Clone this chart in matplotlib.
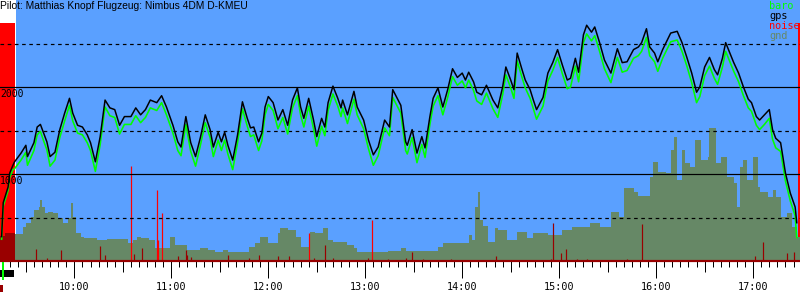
import matplotlib
matplotlib.use("Agg")
import matplotlib.pyplot as plt
from matplotlib.patches import Rectangle
import numpy as np

titel = "Pilot: Matthias Knopf Flugzeug: Nimbus 4DM D-KMEU"

# Zeitachse und Flugphasen (hh:mm)
zeit_von = "09:14"
zeit_bis = "17:29"
abflug = "09:23"
blau_ab = "09:24"
landung = "17:28"

# GPS-Höhe und barometrische Höhe (m)
flug_zeit = [
    "09:15", "09:16", "09:19", "09:20", "09:22",
    "09:23", "09:27", "09:30", "09:31", "09:35", "09:37", "09:39", "09:41", "09:43", "09:45",
    "09:48", "09:51", "09:54", "09:57", "09:59", "10:02", "10:05", "10:08", "10:10", "10:13",
    "10:16", "10:19", "10:22", "10:25", "10:28", "10:31", "10:35", "10:38", "10:41", "10:44",
    "10:47", "10:51", "10:54", "10:57", "11:01", "11:04", "11:06", "11:09", "11:12", "11:15",
    "11:18", "11:21", "11:24", "11:26", "11:29", "11:31", "11:33", "11:35", "11:38", "11:41",
    "11:44", "11:47", "11:49", "11:51", "11:54", "11:56", "11:58", "12:00", "12:03", "12:06",
    "12:09", "12:12", "12:15", "12:18", "12:20", "12:22", "12:25", "12:28", "12:30", "12:33",
    "12:35", "12:37", "12:40", "12:43", "12:45", "12:46", "12:49", "12:53", "12:55", "12:59",
    "13:02", "13:05", "13:08", "13:12", "13:15", "13:17", "13:22", "13:25", "13:26", "13:29",
    "13:32", "13:35", "13:37", "13:40", "13:42", "13:45", "13:48", "13:51", "13:54", "13:57",
    "14:00", "14:02", "14:04", "14:07", "14:09", "14:12", "14:15", "14:19", "14:22", "14:25",
    "14:27", "14:30", "14:32", "14:34", "14:37", "14:39", "14:42", "14:44", "14:46", "14:50",
    "14:53", "14:56", "14:59", "15:02", "15:05", "15:07", "15:10", "15:12", "15:15", "15:17",
    "15:20", "15:22", "15:25", "15:28", "15:32", "15:36", "15:39", "15:42", "15:46", "15:49",
    "15:51", "15:54", "15:56", "15:59", "16:01", "16:04", "16:09", "16:13", "16:16", "16:19",
    "16:22", "16:25", "16:27", "16:30", "16:33", "16:36", "16:38", "16:41", "16:43", "16:46",
    "16:48", "16:51", "16:54", "16:57", "16:59", "17:02", "17:04", "17:07", "17:10", "17:12",
    "17:14", "17:17", "17:20", "17:23", "17:26", "17:27",
]
gps_hoehe = [
    280, 670, 850, 1010, 1100,
    1140, 1240, 1330, 1200, 1360, 1540, 1570, 1470, 1370, 1200,
    1250, 1510, 1700, 1870, 1700, 1560, 1540, 1450, 1360, 1140,
    1430, 1850, 1760, 1740, 1560, 1660, 1660, 1760, 1680, 1740,
    1850, 1820, 1900, 1770, 1560, 1370, 1310, 1660, 1360, 1200,
    1420, 1680, 1510, 1310, 1480, 1370, 1480, 1330, 1160, 1450,
    1830, 1640, 1530, 1540, 1370, 1470, 1770, 1890, 1820, 1620,
    1740, 1560, 1850, 1990, 1770, 1640, 1870, 1620, 1430, 1640,
    1540, 1820, 2010, 1870, 1760, 1850, 1680, 1950, 1770, 1620,
    1390, 1220, 1310, 1620, 1540, 1970, 1790, 1370, 1330, 1510,
    1240, 1430, 1300, 1660, 1870, 1990, 1770, 1970, 2210, 2110,
    2160, 2080, 2170, 2060, 1940, 1910, 2020, 1850, 1760, 2000,
    2230, 2080, 1970, 2390, 2200, 2080, 1970, 1850, 1740, 1880,
    2160, 2280, 2430, 2250, 2080, 2100, 2330, 2170, 2600, 2710,
    2630, 2690, 2510, 2310, 2160, 2440, 2280, 2290, 2430, 2460,
    2510, 2670, 2460, 2390, 2290, 2430, 2620, 2640, 2510, 2340,
    2160, 1940, 2000, 2230, 2340, 2200, 2140, 2330, 2510, 2370,
    2280, 2160, 2000, 1860, 1820, 1660, 1620, 1680, 1740, 1510,
    1410, 1360, 1010, 780, 620, 440,
]
baro_hoehe = [
    250, 630, 810, 960, 1050,
    1060, 1160, 1250, 1100, 1270, 1450, 1490, 1380, 1280, 1090,
    1160, 1420, 1610, 1790, 1610, 1470, 1450, 1360, 1270, 1030,
    1340, 1770, 1670, 1650, 1460, 1570, 1570, 1670, 1590, 1650,
    1760, 1730, 1820, 1680, 1470, 1270, 1210, 1570, 1260, 1090,
    1330, 1590, 1420, 1200, 1390, 1270, 1390, 1230, 1050, 1360,
    1750, 1550, 1430, 1450, 1270, 1380, 1680, 1800, 1730, 1520,
    1650, 1460, 1760, 1900, 1680, 1540, 1780, 1520, 1320, 1550,
    1440, 1730, 1920, 1780, 1660, 1760, 1580, 1860, 1680, 1520,
    1290, 1100, 1210, 1530, 1440, 1880, 1700, 1270, 1230, 1420,
    1130, 1340, 1190, 1570, 1780, 1900, 1680, 1880, 2120, 2020,
    2070, 1990, 2080, 1960, 1840, 1800, 1930, 1750, 1650, 1910,
    2140, 1990, 1870, 2300, 2110, 1990, 1870, 1750, 1630, 1780,
    2070, 2190, 2340, 2150, 1980, 2000, 2240, 2060, 2510, 2610,
    2530, 2590, 2410, 2210, 2050, 2340, 2170, 2190, 2330, 2360,
    2410, 2570, 2360, 2290, 2180, 2330, 2520, 2540, 2410, 2240,
    2050, 1820, 1890, 2130, 2240, 2100, 2030, 2230, 2410, 2270,
    2180, 2060, 1900, 1760, 1720, 1560, 1510, 1570, 1640, 1400,
    1300, 1260, 920, 690, 520, 270,
]

# Gelände unter der Flugbahn (m)
gnd_zeit = [
    "09:14", "09:17", "09:23", "09:28", "09:30", "09:33", "09:35", "09:38", "09:39", "09:40",
    "09:42", "09:44", "09:47", "09:50", "09:53", "09:56", "09:58", "09:59", "10:01", "10:04",
    "10:06", "10:14", "10:20", "10:33", "10:36", "10:39", "10:41", "10:46", "10:50", "10:59",
    "11:02", "11:10", "11:18", "11:23", "11:27", "11:32", "11:35", "11:48", "11:52", "11:55",
    "12:00", "12:06", "12:07", "12:12", "12:17", "12:20", "12:26", "12:29", "12:34", "12:37",
    "12:40", "12:49", "12:53", "12:55", "13:14", "13:22", "13:25", "13:45", "13:48", "14:04",
    "14:06", "14:08", "14:10", "14:11", "14:13", "14:16", "14:20", "14:22", "14:28", "14:34",
    "14:40", "14:44", "14:53", "15:02", "15:08", "15:19", "15:25", "15:32", "15:37", "15:40",
    "15:46", "15:49", "15:56", "15:58", "16:01", "16:06", "16:09", "16:11", "16:13", "16:16",
    "16:18", "16:21", "16:24", "16:28", "16:32", "16:33", "16:37", "16:40", "16:44", "16:48",
    "16:50", "16:52", "16:54", "16:56", "17:00", "17:03", "17:04", "17:09", "17:12", "17:14",
    "17:17", "17:21", "17:24", "17:27", "17:29",
]
gnd_hoehe = [
    290, 320, 310, 390, 440, 510, 590, 620, 700, 620,
    550, 560, 550, 490, 440, 490, 670, 510, 320, 280,
    260, 240, 250, 210, 240, 280, 260, 240, 150, 280,
    180, 130, 150, 130, 100, 130, 100, 160, 210, 280,
    210, 320, 380, 360, 280, 160, 330, 320, 380, 240,
    220, 180, 150, 100, 115, 150, 115, 160, 210, 300,
    240, 620, 790, 470, 400, 220, 380, 360, 240, 330,
    260, 320, 300, 360, 390, 440, 390, 560, 510, 840,
    790, 750, 970, 1140, 1020, 1010, 1280, 1430, 930, 1280,
    1130, 1080, 1390, 1160, 1200, 1530, 1130, 1200, 970, 900,
    620, 1080, 1160, 930, 1200, 850, 790, 740, 820, 740,
    510, 550, 390, 280, 280,
]

# Störgeräusch (noise), laut = hellrot, leise = dunkelrot
laut_zeit = ["10:35", "10:51", "10:52", "10:54", "12:25", "13:04"]
laut_wert = [1090, 820, 240, 550, 320, 470]
leise_zeit = [
    "09:36", "09:43", "09:52", "10:16", "10:19", "10:37", "10:42", "11:04", "11:09", "11:10",
    "11:12", "11:35", "11:48", "11:54", "12:06", "12:13", "12:28", "12:35", "12:40", "13:02",
    "13:14", "13:25", "13:29", "13:36", "13:53", "14:21", "14:55", "14:56", "15:01", "15:04",
    "15:11", "15:17", "15:42", "15:51", "17:01", "17:06", "17:21", "17:25",
]
leise_wert = [
    140, 30, 130, 170, 70, 80, 150, 60, 130, 70,
    50, 70, 30, 70, 60, 60, 30, 180, 30, 30,
    20, 30, 100, 20, 20, 60, 20, 440, 90, 140,
    20, 20, 20, 430, 60, 220, 90, 100,
]

BLAU = "#5aa0ff"
GND = "#668866"
DUNKELROT = "#990000"
ROT = "#ff0000"
GRUEN = "#00ff00"
PX = 0.72  # 1 Pixel in Punkt bei dpi=100


def std(s):
    hh, mm = s.split(":")
    return int(hh) + int(mm) / 60.0


t_flug = np.array([std(s) for s in flug_zeit])
t_gnd = np.array([std(s) for s in gnd_zeit])
g = np.array(gnd_hoehe)

fig = plt.figure(figsize=(8, 3), dpi=100)
fig.patch.set_facecolor("white")
ax = fig.add_axes([0, 39 / 300, 1, 261 / 300])
x0, x1 = std(zeit_von), std(zeit_bis)
ax.set_xlim(x0, x1)
ax.set_ylim(0, 3000)
ax.set_facecolor("white")

# Hintergrund: blau während des Flugs, rot vor Abflug / nach Landung
ax.axvspan(std(blau_ab), x1, color=BLAU, lw=0, zorder=0)
ax.axvspan(x0, std(abflug), ymax=2740 / 3000, color=ROT, lw=0, zorder=1)
ax.axvspan(std(landung), x1, ymax=2740 / 3000, color=ROT, lw=0, zorder=1)

# Gelände
vor = t_gnd <= std(abflug)
ax.fill_between(t_gnd[vor], g[vor], step="post", color=DUNKELROT, lw=0, zorder=2)
nach = t_gnd >= std(abflug)
ax.fill_between(t_gnd[nach], g[nach], step="post", color=GND, lw=0, zorder=2)

# Noise
ax.vlines([std(s) for s in leise_zeit], 0, leise_wert, color=DUNKELROT, lw=PX * 1.2, zorder=3)
ax.vlines([std(s) for s in laut_zeit], 0, laut_wert, color=ROT, lw=PX * 1.2, zorder=3)

# Hilfslinien
for v in (1000, 2000):
    ax.axhline(v, color="black", lw=PX * 1.2, zorder=4)
for v in (500, 1500, 2500):
    ax.axhline(v, color="black", lw=PX * 1.2, ls=(0, (3, 3)), zorder=4)
ax.axhline(0, color=DUNKELROT, lw=PX * 2.2, zorder=5, clip_on=False)

# Höhenkurven
ax.plot(t_flug, baro_hoehe, color=GRUEN, lw=PX * 1.6, zorder=6)
ax.plot(t_flug, gps_hoehe, color="black", lw=PX * 1.5, zorder=7)

# Höhenbeschriftung
for v in (1000, 2000):
    ax.annotate(str(v), xy=(0, v), xycoords=("axes fraction", "data"),
                xytext=(0, -2), textcoords="offset pixels", va="top", ha="left",
                family="DejaVu Sans Mono", fontsize=7, zorder=8)

# Zeitachse
stunden = np.arange(10, 18)
ax.set_xticks(stunden)
ax.set_xticklabels([f"{s}:00" for s in stunden], family="DejaVu Sans Mono", fontsize=7.3)
ax.set_xticks(np.arange(9.25, x1, 5 / 60), minor=True)
ax.tick_params(axis="x", which="major", length=17 * PX, width=PX, pad=3, direction="out")
ax.tick_params(axis="x", which="minor", length=6 * PX, width=PX, direction="out")
ax.set_yticks([])
for sp in ax.spines.values():
    sp.set_visible(False)

sec = ax.secondary_xaxis("bottom")
sec.set_xticks(np.arange(9.5, x1, 1.0))
sec.set_xticklabels([])
sec.tick_params(axis="x", length=11 * PX, width=PX, direction="out")
sec.spines["bottom"].set_visible(False)

# Titel und Legende
fig.text(0.0, 1 - 1 / 300, titel, family="Liberation Sans", fontsize=7.4, va="top", ha="left")
for i, (name, farbe) in enumerate([("baro", GRUEN), ("gps", "black"), ("noise", ROT), ("gnd", GND)]):
    fig.text(769 / 800, 1 - (1 + 10 * i) / 300, name, color=farbe,
             family="DejaVu Sans Mono", fontsize=7.4, va="top", ha="left")

# kleine Markierungen links unter der Achse
fig.patches.append(Rectangle((0, 1 - 277 / 300), 14 / 800, 7 / 300, transform=fig.transFigure,
                             color="black", lw=0))
fig.patches.append(Rectangle((2 / 800, 1 - 280 / 300), 2 / 800, 18 / 300, transform=fig.transFigure,
                             color=GRUEN, lw=0))
fig.patches.append(Rectangle((0, 1 - 292 / 300), 3 / 800, 7 / 300, transform=fig.transFigure,
                             color=DUNKELROT, lw=0))

fig.savefig("out.png", dpi=100)
